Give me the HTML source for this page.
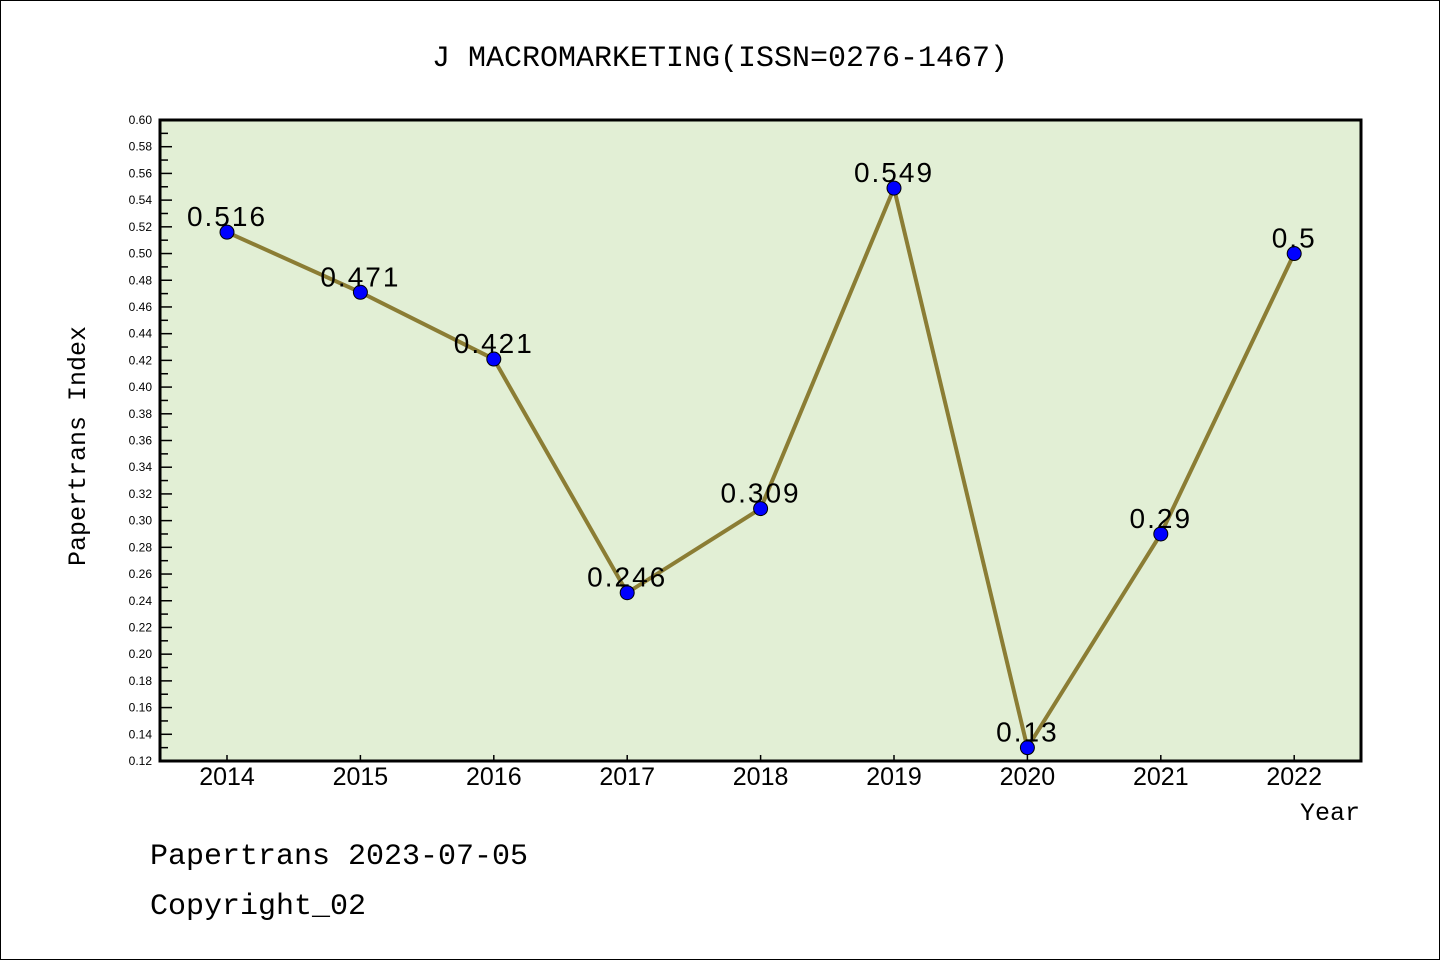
<!DOCTYPE html>
<html><head><meta charset="utf-8"><style>
body{margin:0;background:#fff;}
svg{display:block;font-family:"Liberation Sans","WenQuanYi Zen Hei",sans-serif;}
</style></head><body>
<svg id="chart" width="1440" height="960">
<rect x="0.5" y="0.5" width="1439" height="959" fill="#fff" stroke="#000"/>
<text x="720" y="66" text-anchor="middle" font-size="30" font-family="Liberation Mono,monospace">J MACROMARKETING(ISSN=0276-1467)</text>
<rect x="160" y="120" width="1201" height="641" fill="#e2efd5"/>
<g id="yaxis"></g><g id="xaxis"></g><g id="series"></g>
<rect x="160" y="120" width="1201" height="641" fill="none" stroke="#000" stroke-width="3"/>
<text x="85" y="446" transform="rotate(-90 85 446)" text-anchor="middle" font-size="25" font-family="Liberation Mono,monospace">Papertrans Index</text>
<text x="1360" y="820" text-anchor="end" font-size="25" font-family="Liberation Mono,monospace">Year</text>
<text x="150" y="864" font-size="30" font-family="Liberation Mono,monospace">Papertrans 2023-07-05</text>
<text x="150" y="914" font-size="30" font-family="Liberation Mono,monospace">Copyright_02</text>
</svg>
<script>
const years=["2014","2015","2016","2017","2018","2019","2020","2021","2022"];
const values=[0.516,0.471,0.421,0.246,0.309,0.549,0.13,0.29,0.5];
const valueLabels=["0.516","0.471","0.421","0.246","0.309","0.549","0.13","0.29","0.5"];
const yTicks=[0.12,0.14,0.16,0.18,0.20,0.22,0.24,0.26,0.28,0.30,0.32,0.34,0.36,0.38,0.40,0.42,0.44,0.46,0.48,0.50,0.52,0.54,0.56,0.58,0.60];
const NS="http://www.w3.org/2000/svg";
const yMin=0.12,yMax=0.60,plotTop=120,plotBot=761;
function yS(v){return plotBot-(v-yMin)/(yMax-yMin)*(plotBot-plotTop);}
function xS(i){return 227+i*133.4;}
function mk(t,a,p){const e=document.createElementNS(NS,t);for(const k in a)e.setAttribute(k,a[k]);p.appendChild(e);return e;}
const ya=document.getElementById('yaxis');
yTicks.forEach((t,i)=>{
  const tk=mk('line',{x1:160,x2:172,y1:yS(t),y2:yS(t),stroke:'#000','stroke-width':1.5},ya);
  
  
  const lb=mk('text',{x:152,y:yS(t)+4,'text-anchor':'end','font-size':12},ya);
  lb.textContent=t.toFixed(2);
  
  
  if(i<yTicks.length-1){
    const mt=mk('line',{x1:160,x2:168,y1:yS(t+0.01),y2:yS(t+0.01),stroke:'#000','stroke-width':1.5},ya);
    
    
  }
});
const xa=document.getElementById('xaxis');
years.forEach((yr,i)=>{
  const tk=mk('line',{x1:xS(i),x2:xS(i),y1:761,y2:755,stroke:'#000','stroke-width':1.5},xa);
  
  
  const lb=mk('text',{x:xS(i),y:785,'text-anchor':'middle','font-size':25},xa);
  lb.textContent=yr;
  
  
});
const s=document.getElementById('series');
const line=mk('polyline',{points:values.map((v,i)=>xS(i)+','+yS(v)).join(' '),fill:'none',stroke:'#8b7d34','stroke-width':4},s);


values.forEach((v,i)=>{
  const c=mk('circle',{cx:xS(i),cy:yS(v),r:7,fill:'#0000ff',stroke:'#000','stroke-width':1},s);
  
  
  const t=mk('text',{x:xS(i),y:yS(v)-6,'text-anchor':'middle','font-size':28,'letter-spacing':2},s);
  t.textContent=valueLabels[i];
  
  
});
</script>
</body></html>
